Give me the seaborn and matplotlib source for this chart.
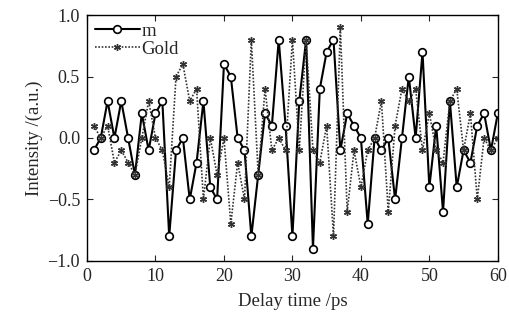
import numpy as np
import pandas as pd
import seaborn as sns
import matplotlib
matplotlib.use("Agg")
import matplotlib.pyplot as plt

# delay time (ps)
delay = list(range(1, 61))

m_vals = [-0.1, 0.0, 0.3, 0.0, 0.3, 0.0, -0.3, 0.2, -0.1, 0.2,
          0.3, -0.8, -0.1, 0.0, -0.5, -0.2, 0.3, -0.4, -0.5, 0.6,
          0.5, 0.0, -0.1, -0.8, -0.3, 0.2, 0.1, 0.8, 0.1, -0.8,
          0.3, 0.8, -0.9, 0.4, 0.7, 0.8, -0.1, 0.2, 0.1, 0.0,
          -0.7, 0.0, -0.1, 0.0, -0.5, 0.0, 0.5, 0.0, 0.7, -0.4,
          0.1, -0.6, 0.3, -0.4, -0.1, -0.2, 0.1, 0.2, -0.1, 0.2]

gold_vals = [0.1, 0.0, 0.1, -0.2, -0.1, -0.2, -0.3, 0.0, 0.3, 0.0,
             -0.1, -0.4, 0.5, 0.6, 0.3, 0.4, -0.5, 0.0, -0.3, 0.0,
             -0.7, -0.2, -0.5, 0.8, -0.3, 0.4, -0.1, 0.0, -0.1, 0.8,
             -0.1, 0.8, -0.1, -0.2, 0.1, -0.8, 0.9, -0.6, -0.1, -0.4,
             -0.1, 0.0, 0.3, -0.6, 0.1, 0.4, 0.3, 0.4, -0.1, 0.2,
             -0.1, -0.2, 0.3, 0.4, -0.1, 0.2, -0.5, 0.0, -0.1, 0.0]

df = pd.DataFrame({'delay': delay, 'm': m_vals, 'Gold': gold_vals})

sns.set_style("ticks")
plt.rcParams['font.family'] = ['Liberation Serif', 'DejaVu Serif']

fig = plt.figure(figsize=(5.09, 3.27), dpi=100)
ax = fig.add_axes([0.171, 0.202, 0.807, 0.752])

sns.lineplot(data=df, x='delay', y='m', ax=ax, color='black', linewidth=1.5,
             marker='o', markersize=5.5, markerfacecolor='white',
             markeredgecolor='black', markeredgewidth=1.2, label='m')
sns.lineplot(data=df, x='delay', y='Gold', ax=ax, color='#333333', linewidth=1.2,
             linestyle=(0, (1, 1)), marker=(6, 2, 0), markersize=5,
             markeredgewidth=1.0, markeredgecolor='#333333', label='Gold')

ax.set_xlim(0, 60)
ax.set_ylim(-1.0, 1.0)
ax.set_xticks([0, 10, 20, 30, 40, 50, 60])
ax.set_yticks([-1.0, -0.5, 0.0, 0.5, 1.0])
ax.set_yticklabels(['\u22121.0', '\u22120.5', '0.0', '0.5', '1.0'])
ax.tick_params(direction='in', length=4, width=0.8, labelsize=13,
               top=True, right=True, pad=5)
for s in ax.spines.values():
    s.set_linewidth(1.0)
    s.set_color('black')

ax.set_xlabel('Delay time /ps', fontsize=13.5, labelpad=6)
ax.set_ylabel('Intensity /(a.u.)', fontsize=13.5, labelpad=3)

leg = ax.legend(loc='upper left', frameon=False, fontsize=13.5,
                handlelength=2.4, handletextpad=0.1, borderaxespad=0.1,
                labelspacing=0.05, borderpad=0.3)

fig.savefig('out.png', dpi=100)
